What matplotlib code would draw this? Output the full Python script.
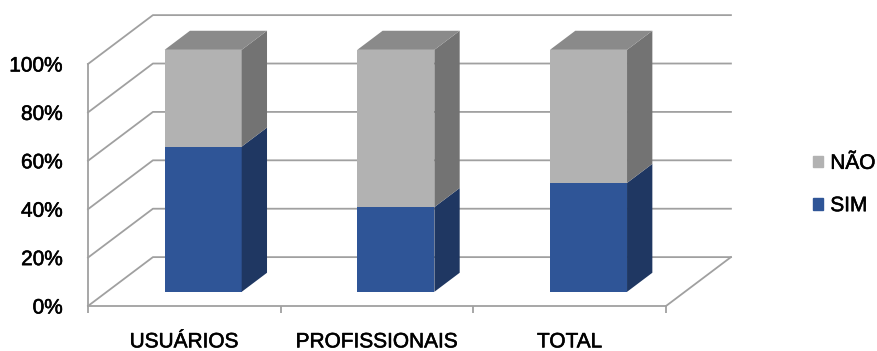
import numpy as np
import matplotlib.pyplot as plt
import matplotlib.patheffects as pe
from matplotlib.patches import Polygon, Patch

plt.rcParams['font.family'] = ['Liberation Sans', 'DejaVu Sans']

categorias = ['USUÁRIOS', 'PROFISSIONAIS', 'TOTAL']
sim = [60, 35, 45]
nao = [40, 65, 55]
niveis = [0, 20, 40, 60, 80, 100]
rotulos_y = ['0%', '20%', '40%', '60%', '80%', '100%']

# cores (frente, lado, topo)
cor_sim = ('#2F5597', '#1F3762', '#3A64A8')
cor_nao = ('#B2B2B2', '#737373', '#8A8A8A')
cor_grade = '#A0A0A0'

# "profundidade" do grafico 3D
DX, DY = 0.337, 20.2
f0, f1 = 0.29, 0.68
largura = 0.40

fig = plt.figure(figsize=(8.77, 3.51), dpi=100)
ax = fig.add_axes([88 / 877, 45 / 351, 578 / 877, 242 / 351])
ax.set_xlim(0, 3)
ax.set_ylim(0, 100)

# paredes e grade
for v in niveis:
    ax.plot([0, DX, 3 + DX], [v, v + DY, v + DY], color=cor_grade, lw=1.3,
            clip_on=False, zorder=1)
ax.plot([3, 3 + DX], [0, DY], color=cor_grade, lw=1.3, clip_on=False, zorder=1)

for s in ['top', 'right']:
    ax.spines[s].set_visible(False)
for s in ['left', 'bottom']:
    ax.spines[s].set_color(cor_grade)
    ax.spines[s].set_linewidth(1.3)

# barras empilhadas
bdx, bdy = (f1 - f0) * DX, (f1 - f0) * DY
for i in range(len(categorias)):
    x0 = i + 0.5 - largura / 2 + f0 * DX
    x1 = x0 + largura
    base = f0 * DY
    for vals, cores in [(sim, cor_sim), (nao, cor_nao)]:
        y0 = base
        y1 = base + vals[i]
        ax.add_patch(Polygon([(x0, y0), (x1, y0), (x1, y1), (x0, y1)],
                             closed=True, fc=cores[0], ec='none', clip_on=False, zorder=3))
        ax.add_patch(Polygon([(x1, y0), (x1 + bdx, y0 + bdy), (x1 + bdx, y1 + bdy), (x1, y1)],
                             closed=True, fc=cores[1], ec='none', clip_on=False, zorder=3))
        base = y1
    ax.add_patch(Polygon([(x0, base), (x0 + bdx, base + bdy), (x1 + bdx, base + bdy), (x1, base)],
                         closed=True, fc=cor_nao[2], ec='none', clip_on=False, zorder=3))

ax.set_xticks([0.5, 1.5, 2.5], categorias)
ax.set_xticks([0, 1, 2, 3], minor=True)
ax.tick_params(axis='x', which='major', length=0, pad=19, labelsize=15)
ax.tick_params(axis='x', which='minor', length=5, width=1.3, color=cor_grade)
ax.set_yticks(niveis, rotulos_y)
ax.tick_params(axis='y', length=0, pad=18, labelsize=15)

handles = [Patch(color=cor_nao[0], label='NÃO'), Patch(color=cor_sim[0], label='SIM')]
leg = fig.legend(handles=handles, loc='center left', bbox_to_anchor=(813 / 877, 1 - 184.5 / 351),
                 frameon=False, borderpad=0, borderaxespad=0, handlelength=0.48,
                 handleheight=0.48, handletextpad=0.35, labelspacing=1.12, fontsize=15)

# texto um pouco mais "encorpado", como no original
efeito = [pe.withStroke(linewidth=0.4, foreground='black')]
for t in ax.get_xticklabels() + ax.get_yticklabels() + leg.get_texts():
    t.set_path_effects(efeito)

fig.savefig('out.png', dpi=100)
